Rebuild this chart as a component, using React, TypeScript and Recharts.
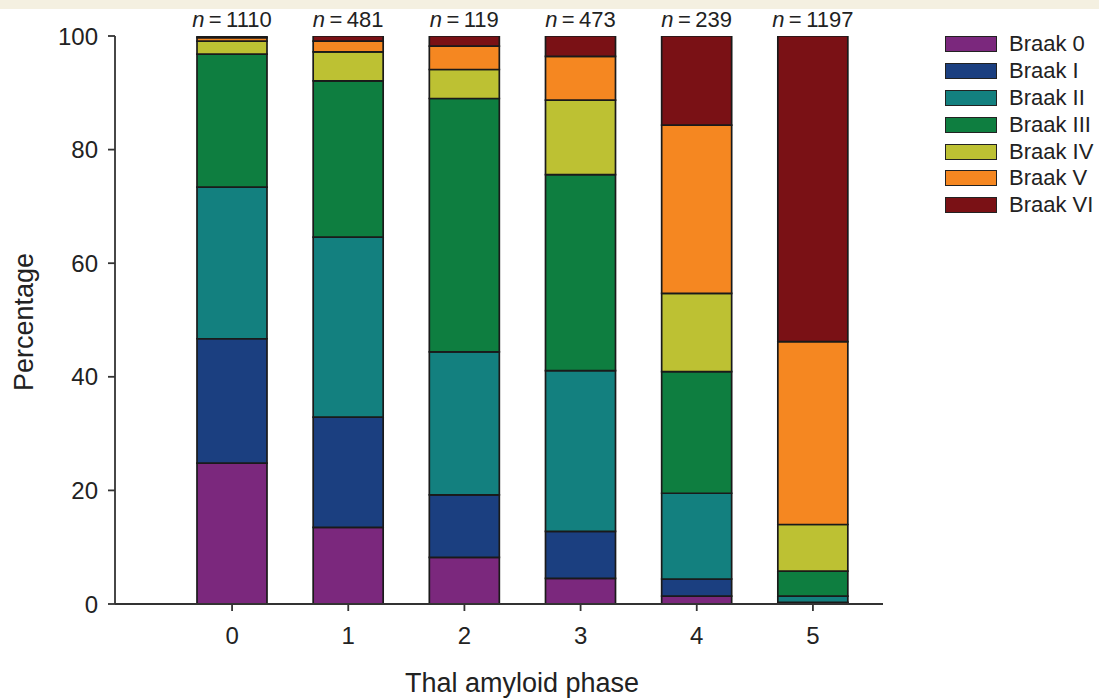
import React from 'react';
import { BarChart, Bar, XAxis, YAxis, Legend, LabelList } from 'recharts';

// Thal amyloid phase on x, share of each Braak stage (%) stacked
const phases = ['0', '1', '2', '3', '4', '5'];
const sampleSizes = [1110, 481, 119, 473, 239, 1197];

const braak0 = [24.8, 13.5, 8.2, 4.5, 1.4, 0.1];
const braakI = [21.9, 19.4, 11.0, 8.3, 3.0, 0.2];
const braakII = [26.7, 31.7, 25.2, 28.3, 15.1, 1.1];
const braakIII = [23.4, 27.5, 44.6, 34.5, 21.4, 4.4];
const braakIV = [2.3, 5.1, 5.1, 13.1, 13.8, 8.2];
const braakV = [0.6, 1.9, 4.1, 7.7, 29.6, 32.2];
const braakVI = [0.3, 0.9, 1.8, 3.6, 15.7, 53.8];

const stageNames = ['Braak 0', 'Braak I', 'Braak II', 'Braak III', 'Braak IV', 'Braak V', 'Braak VI'];
const stageColors = ['#7b287d', '#1b3f80', '#13807f', '#0e7e40', '#bdc133', '#f58721', '#7a1115'];
const yTicks = [0, 20, 40, 60, 80, 100];

const stageSeries = [braak0, braakI, braakII, braakIII, braakIV, braakV, braakVI];

const data = phases.map((phase, i) => {
  const row: any = { phase, n: sampleSizes[i] };
  stageSeries.forEach((s, k) => {
    row['s' + k] = s[i];
  });
  return row;
});

const FONT = '"Liberation Sans", Arial, Helvetica, sans-serif';
const INK = '#222';

const renderN = (props: any) => {
  const { x, y, width, value } = props;
  return (
    <text x={x + width / 2} y={y - 9} textAnchor="middle" fontSize={22} fill={INK} fontFamily={FONT}>
      <tspan fontStyle="italic">n</tspan>
      <tspan>{'\u2009=\u2009' + value}</tspan>
    </text>
  );
};

const renderLegend = () => (
  <div style={{ fontFamily: FONT, fontSize: 22, color: INK }}>
    {stageNames.map((name, i) => (
      <div key={name} style={{ display: 'flex', alignItems: 'center', height: 26.8 }}>
        <div
          style={{
            width: 50,
            height: 14,
            background: stageColors[i],
            border: '1.5px solid #222',
            marginRight: 12,
          }}
        />
        <span>{name}</span>
      </div>
    ))}
  </div>
);

export default function App() {
  return (
    <div style={{ position: 'relative', width: 1099, height: 699, background: '#fff', overflow: 'hidden' }}>
      <style>{'body{margin:0}'}</style>
      <div style={{ position: 'absolute', left: 0, top: 0, width: 1099, height: 9, background: '#f4f0e1' }} />
      <BarChart width={1099} height={699} data={data} margin={{ top: 36, right: 216, bottom: 0, left: 0 }}>
        <XAxis
          dataKey="phase"
          height={95}
          padding={{ left: 59, right: 12 }}
          tickSize={7}
          tickMargin={16}
          axisLine={{ stroke: '#333', strokeWidth: 1.8 }}
          tickLine={{ stroke: '#333', strokeWidth: 1.8 }}
          tick={{ fontSize: 24, fill: INK, fontFamily: FONT }}
          label={{
            content: (p: any) => {
              const vb = p.viewBox;
              return (
                <text
                  x={vb.x + vb.width / 2 + 23}
                  y={692}
                  textAnchor="middle"
                  fontSize={27}
                  fill={INK}
                  fontFamily={FONT}
                >
                  Thal amyloid phase
                </text>
              );
            },
          }}
        />
        <YAxis
          width={115}
          domain={[0, 100]}
          allowDataOverflow
          ticks={yTicks}
          interval={0}
          tickSize={7}
          tickMargin={10}
          axisLine={{ stroke: '#333', strokeWidth: 1.8 }}
          tickLine={{ stroke: '#333', strokeWidth: 1.8 }}
          tick={{ fontSize: 24, fill: INK, fontFamily: FONT }}
          label={{
            content: (p: any) => {
              const vb = p.viewBox;
              const cy = vb.y + vb.height / 2 + 2;
              return (
                <text
                  transform={`translate(33, ${cy}) rotate(-90)`}
                  textAnchor="middle"
                  fontSize={27}
                  fill={INK}
                  fontFamily={FONT}
                >
                  Percentage
                </text>
              );
            },
          }}
        />
        <Legend
          layout="horizontal"
          verticalAlign="middle"
          align="center"
          content={renderLegend}
          wrapperStyle={{ top: 31, left: 945, width: 154, height: 190 }}
        />
        {stageNames.map((name, k) => (
          <Bar
            key={name}
            dataKey={'s' + k}
            name={name}
            stackId="braak"
            barSize={70}
            fill={stageColors[k]}
            stroke="#1a1a1a"
            strokeWidth={1.7}
            isAnimationActive={false}
          >
            {k === stageNames.length - 1 && <LabelList dataKey="n" content={renderN} />}
          </Bar>
        ))}
      </BarChart>
    </div>
  );
}
